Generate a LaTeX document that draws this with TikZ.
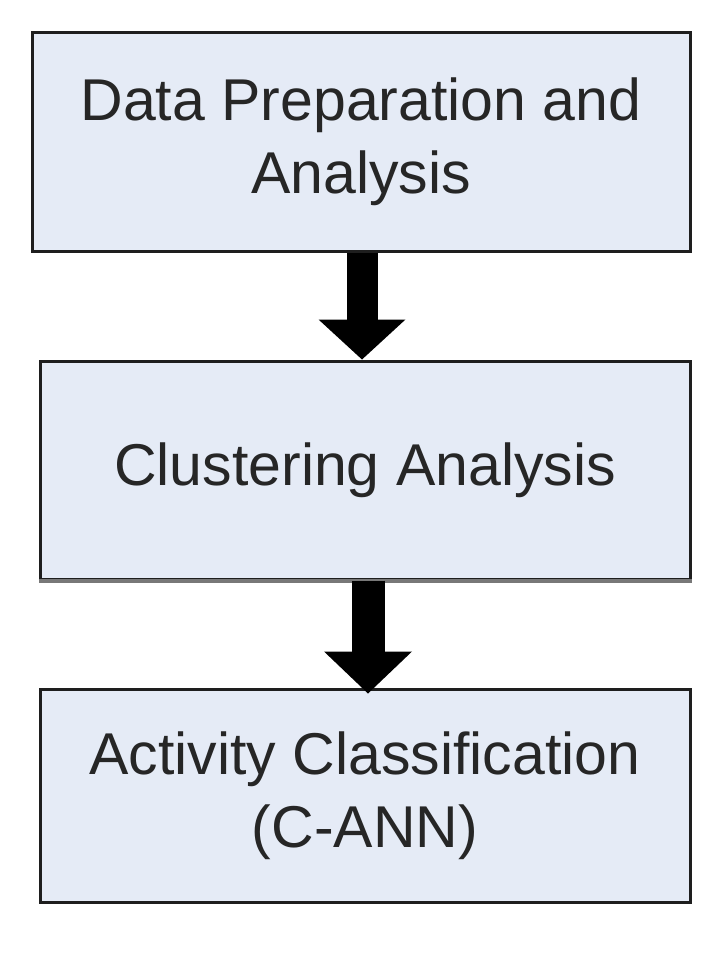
\documentclass[tikz,border=0pt]{standalone}
\usepackage{fontspec}
\setmainfont{Liberation Sans}
\usetikzlibrary{arrows.meta}
\definecolor{boxfill}{RGB}{229,235,246}
\definecolor{boxline}{RGB}{30,30,30}
\definecolor{shadowgray}{RGB}{120,120,120}
\tikzset{
  flowbox/.style={draw=boxline, line width=3pt, fill=boxfill, inner sep=0pt,
    align=center, text=black!85, font=\fontsize{59}{73}\selectfont},
  bigarrow/.style={line width=31pt, black,
    -{Triangle[width=87pt,length=40pt,line width=0pt]}}
}
\begin{document}
\begin{tikzpicture}[x=1pt,y=-1pt]
\useasboundingbox (0,0) rectangle (719,955);
\node[flowbox, minimum width=658pt, minimum height=218pt] (b1) at (361,142)
  {Data Preparation and\\Analysis};
\node[flowbox, minimum width=650pt, minimum height=218pt] (b2) at (365,470)
  {Clustering Analysis};
\node[flowbox, minimum width=650pt, minimum height=213pt] (b3) at (365,795.5)
  {Activity Classification\\(C-ANN)};
\draw[shadowgray, line width=4pt] ([yshift=-0.5pt]b2.south west) -- ([yshift=-0.5pt]b2.south east);
\draw[bigarrow] ([xshift=1pt]b1.south) -- ([xshift=1pt]b1.south |- b2.north);
\draw[bigarrow, line width=33pt, -{Triangle[width=88pt,length=42pt,line width=0pt]}]
  ([xshift=3pt]b2.south) -- ([xshift=3pt,yshift=-6pt]b2.south |- b3.north);
\end{tikzpicture}
\end{document}
